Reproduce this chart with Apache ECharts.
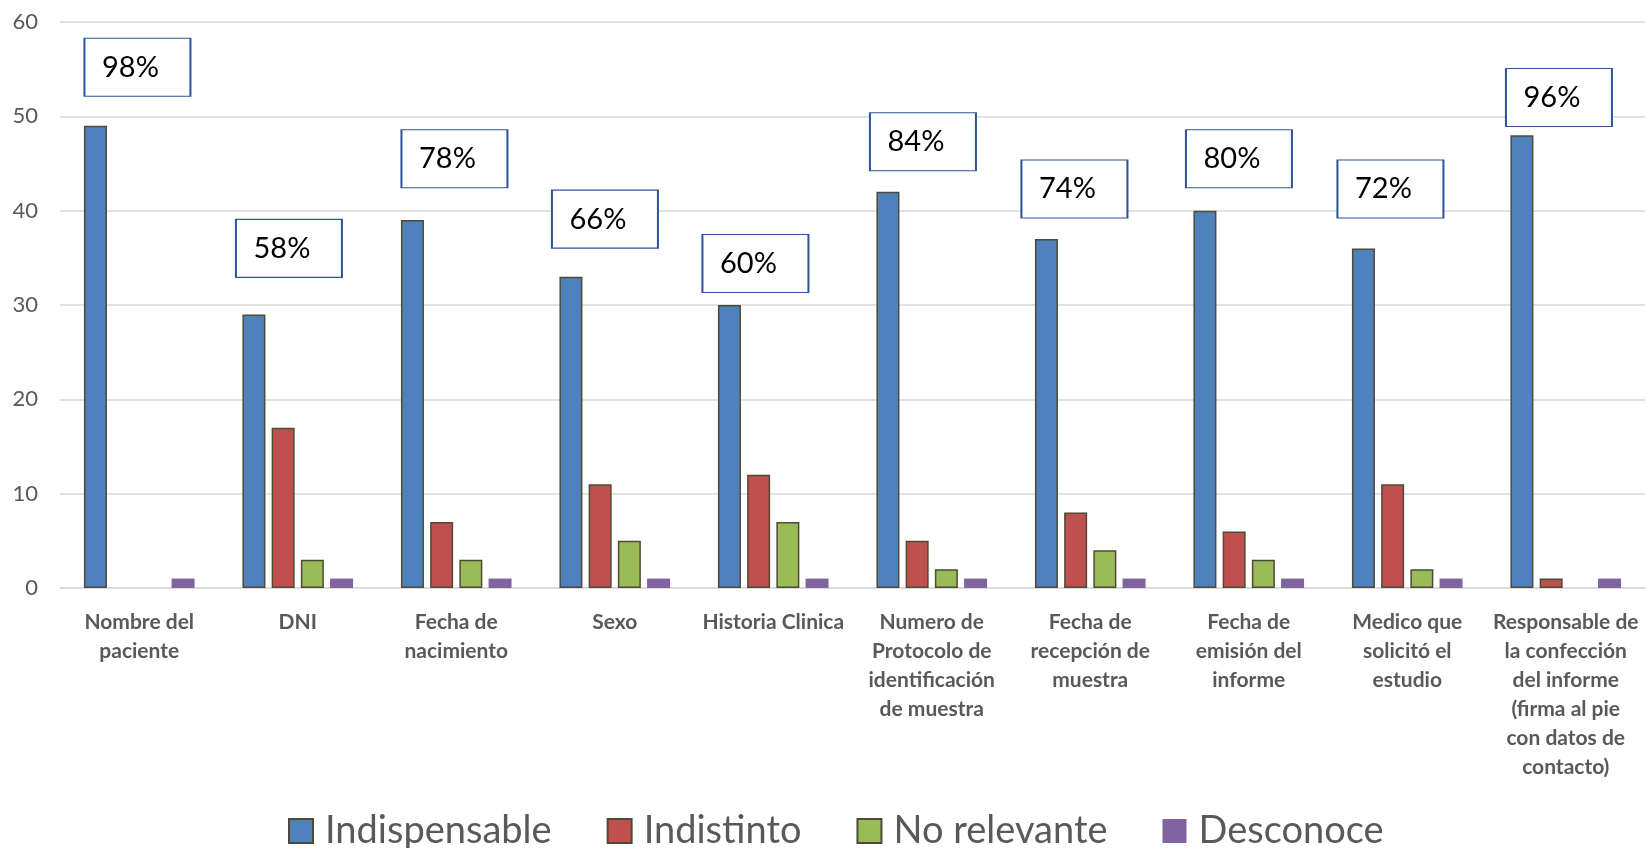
<!DOCTYPE html>
<html><head><meta charset="utf-8">
<script src="https://cdn.jsdelivr.net/npm/echarts@6/dist/echarts.min.js"></script>
<style>html,body{margin:0;padding:0;background:#fff}#c{width:1646px;height:848px}</style>
</head><body><div id="c"></div>
<script>
const categories = [
  "Nombre del\npaciente", "DNI", "Fecha de\nnacimiento", "Sexo", "Historia Clinica",
  "Numero de\nProtocolo de\nidentificación\nde muestra", "Fecha de\nrecepción de\nmuestra",
  "Fecha de\nemisión del\ninforme", "Medico que\nsolicitó el\nestudio",
  "Responsable de\nla confección\ndel informe\n(firma al pie\ncon datos de\ncontacto)"
];
const indispensable = [49, 29, 39, 33, 30, 42, 37, 40, 36, 48];
const indistinto    = [0, 17, 7, 11, 12, 5, 8, 6, 11, 1];
const noRelevante   = [0, 3, 3, 5, 7, 2, 4, 3, 2, 0];
const desconoce     = [1, 1, 1, 1, 1, 1, 1, 1, 1, 1];
const percentLabels = ["98%", "58%", "78%", "66%", "60%", "84%", "74%", "80%", "72%", "96%"];
const yTicks = [0, 10, 20, 30, 40, 50, 60];

// layout of the annotation boxes (not data): vertical level in axis units, horizontal shift in px
const boxLevels = [55.2, 36.0, 45.5, 39.1, 34.4, 47.3, 42.3, 45.5, 42.3, 52.0];
const boxShiftX = [42, 35, 42, 34, 26, 35, 28, 34, 27, 37];

const FONT = 'Lato, "Open Sans", sans-serif';
const border = '#4D4B35';

const chart = echarts.init(document.getElementById('c'), null, {renderer: 'canvas'});
const mk = (name, data, color, withBorder, extra) => Object.assign({
  name, type: 'bar', barWidth: 23, barGap: '27%',
  data: data.map(v => v === 0 ? {value: 0, itemStyle: {borderWidth: 0, opacity: 0}} : v),
  itemStyle: {color, borderColor: withBorder ? border : color, borderWidth: withBorder ? 1.5 : 0},
  emphasis: {disabled: true}
}, extra || {});

chart.setOption({
  animation: false,
  textStyle: {fontFamily: FONT},
  grid: {left: 60, right: 1, top: 22, bottom: 260, containLabel: false},
  legend: {
    left: 283, top: 807, itemWidth: 24, itemHeight: 24, itemGap: 55, icon: 'rect',
    textStyle: {fontSize: 38, color: '#595959', fontFamily: FONT, padding: [0, 0, 0, 7]},
    data: ['Indispensable', 'Indistinto', 'No relevante', 'Desconoce']
  },
  xAxis: {
    type: 'category', data: categories,
    axisLine: {lineStyle: {color: '#D9D9D9', width: 1.5}},
    axisTick: {show: false},
    axisLabel: {interval: 0, margin: 20, fontSize: 21, fontWeight: 'bold', color: '#595959',
      lineHeight: 29, fontFamily: FONT}
  },
  yAxis: {
    type: 'value', min: yTicks[0], max: yTicks[yTicks.length - 1], interval: 10,
    axisLine: {show: false}, axisTick: {show: false},
    splitLine: {lineStyle: {color: '#D9D9D9', width: 1.5}},
    axisLabel: {fontSize: 22, color: '#595959', margin: 22, fontFamily: FONT}
  },
  series: [
    mk('Indispensable', indispensable, '#4F81BD', true, {
      markPoint: {
        silent: true,
        symbol: 'rect', symbolSize: [106, 58],
        itemStyle: {color: '#ffffff', borderColor: '#2F5597', borderWidth: 1.5},
        label: {show: true, position: 'inside', fontSize: 29, color: '#000', fontFamily: FONT, offset: [-7, 0]},
        data: percentLabels.map((t, i) => ({
          coord: [i, boxLevels[i]], value: t,
          symbolOffset: [boxShiftX[i], 0],
          label: {formatter: t}
        }))
      }
    }),
    mk('Indistinto', indistinto, '#C0504D', true),
    mk('No relevante', noRelevante, '#9BBB59', true),
    mk('Desconoce', desconoce, '#8064A2', false)
  ]
});
</script></body></html>
